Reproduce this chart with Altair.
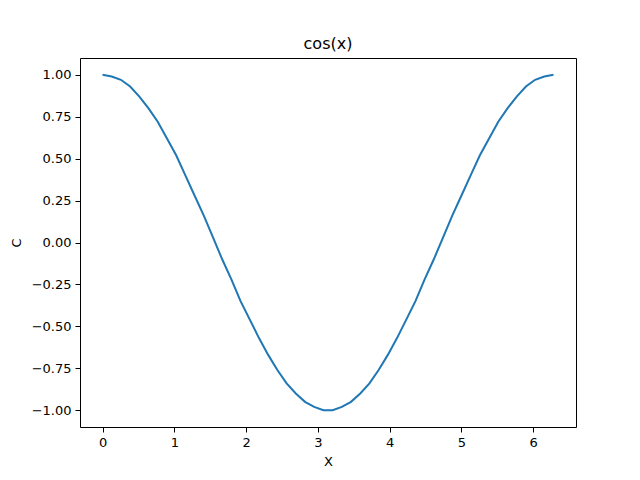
import altair as alt
import pandas as pd

x_vals = [0.000, 0.128, 0.256, 0.385, 0.513, 0.641, 0.769, 0.898, 1.026, 1.154,
          1.282, 1.411, 1.539, 1.667, 1.795, 1.923, 2.052, 2.180, 2.308, 2.436,
          2.565, 2.693, 2.821, 2.949, 3.078, 3.206, 3.334, 3.462, 3.591, 3.719,
          3.847, 3.975, 4.103, 4.232, 4.360, 4.488, 4.616, 4.745, 4.873, 5.001,
          5.129, 5.258, 5.386, 5.514, 5.642, 5.771, 5.899, 6.027, 6.155, 6.283]
c_vals = [1.00, 0.99, 0.97, 0.93, 0.87, 0.80, 0.72, 0.62, 0.52, 0.40,
          0.28, 0.16, 0.03, -0.10, -0.22, -0.35, -0.46, -0.57, -0.67, -0.76,
          -0.84, -0.90, -0.95, -0.98, -1.00, -1.00, -0.98, -0.95, -0.90, -0.84,
          -0.76, -0.67, -0.57, -0.46, -0.35, -0.22, -0.10, 0.03, 0.16, 0.28,
          0.40, 0.52, 0.62, 0.72, 0.80, 0.87, 0.93, 0.97, 0.99, 1.00]
x_ticks = [0, 1, 2, 3, 4, 5, 6]
y_ticks = [-1.0, -0.75, -0.5, -0.25, 0.0, 0.25, 0.5, 0.75, 1.0]

df = pd.DataFrame({"X": x_vals, "C": c_vals})

axis_common = dict(
    grid=False, domain=False, tickColor="black", tickSize=5, tickWidth=1,
    labelColor="black", labelFont="DejaVu Sans", labelFontSize=13,
    labelPadding=4, titleFont="DejaVu Sans", titleFontSize=13,
    titleFontWeight="normal", titleColor="black",
)

chart = alt.Chart(df).mark_line(color="#1f77b4", strokeWidth=2).encode(
    x=alt.X("X:Q", scale=alt.Scale(domain=[-0.314, 6.597], nice=False, zero=False),
            axis=alt.Axis(values=x_ticks, format="d", titlePadding=6, **axis_common)),
    y=alt.Y("C:Q", scale=alt.Scale(domain=[-1.1, 1.1], nice=False, zero=False),
            axis=alt.Axis(values=y_ticks, format=".2f", titlePadding=8, **axis_common)),
).properties(
    width=496, height=369,
    title=alt.TitleParams("cos(x)", font="DejaVu Sans", fontSize=16,
                          fontWeight="normal", color="black", offset=6),
    autosize="none",
    padding={"left": 72, "top": 50, "right": 56, "bottom": 45},
).configure(
    background="white",
    view=alt.ViewConfig(stroke="black", strokeWidth=1),
)

chart.save("out.html", embed_options={"renderer": "svg", "actions": False})
